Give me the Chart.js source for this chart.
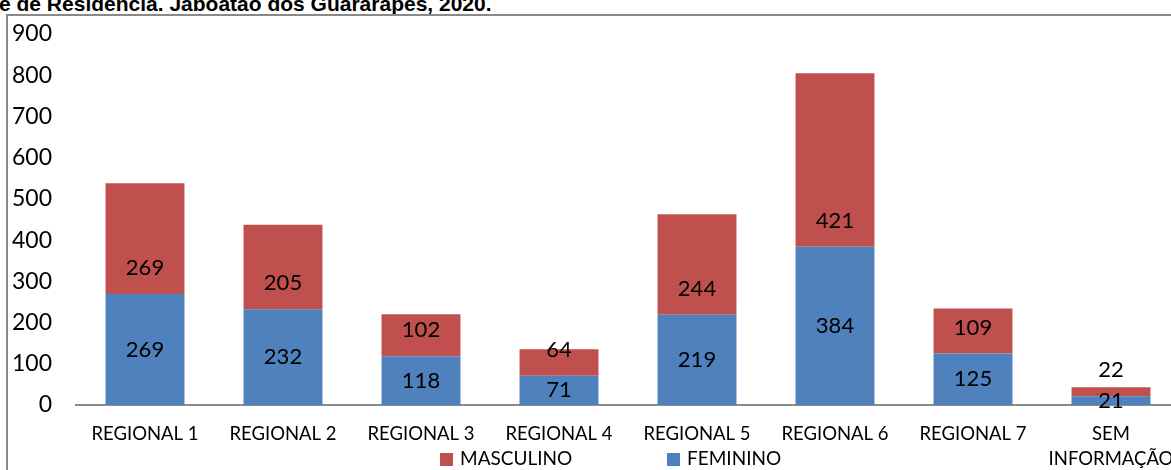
<!DOCTYPE html>
<html>
<head>
<meta charset="utf-8">
<script src="https://cdn.jsdelivr.net/npm/chart.js@4"></script>
<style>
    html, body { margin: 0; padding: 0; background: #fff; overflow: hidden; width: 1171px; height: 470px; }
    #title { position: absolute; left: -1px; top: -7px; font: bold 21px "Liberation Sans", Arial, sans-serif; line-height: 21px; white-space: nowrap; color: #000; }
    #frame { position: absolute; left: 6px; top: 14px; width: 1300px; height: 600px; border: 2px solid #898989; }
    #wrap { position: absolute; left: 0; top: 0; width: 1190px; height: 500px; }
    #legend { position: absolute; top: 446px; left: 0; font: 19px Lato, sans-serif; color: #000; }
    #legend span.item { position: absolute; white-space: nowrap; }
    #legend i { display: inline-block; width: 13px; height: 13px; margin-right: 7px; vertical-align: -1px; }
</style>
</head>
<body>
<div id="title">e de Residência. Jaboatão dos Guararapes, 2020.</div>
<div id="frame"></div>
<div id="wrap"><canvas id="chart" width="1190" height="500"></canvas></div>
<div id="legend"></div>
<script>
// categories and values
const categories = ['REGIONAL 1', 'REGIONAL 2', 'REGIONAL 3', 'REGIONAL 4', 'REGIONAL 5', 'REGIONAL 6', 'REGIONAL 7', ['SEM', 'INFORMAÇÃO']];
const feminino = [269, 232, 118, 71, 219, 384, 125, 21];
const masculino = [269, 205, 102, 64, 244, 421, 109, 22];
const yTicks = [0, 100, 200, 300, 400, 500, 600, 700, 800, 900];

const BLUE = '#4F81BD';
const RED = '#C0504D';

// value labels: blue centred, red sitting near the base of its segment
const valueLabels = {
    id: 'valueLabels',
    afterDatasetsDraw(chart) {
        const ctx = chart.ctx;
        ctx.save();
        ctx.font = '22px Lato, sans-serif';
        ctx.fillStyle = '#000';
        ctx.textAlign = 'center';
        ctx.textBaseline = 'middle';
        chart.data.datasets.forEach((ds, i) => {
            const meta = chart.getDatasetMeta(i);
            meta.data.forEach((bar, j) => {
                const y = ds.labelAnchor === 'base' ? bar.base - 26 : (bar.y + bar.base) / 2;
                ctx.fillText(String(ds.data[j]), bar.x, y);
            });
        });
        ctx.restore();
    }
};

const chart = new Chart(document.getElementById('chart').getContext('2d'), {
    type: 'bar',
    data: {
        labels: categories,
        datasets: [{
            label: 'FEMININO',
            data: feminino,
            backgroundColor: BLUE,
            labelAnchor: 'center'
        }, {
            label: 'MASCULINO',
            data: masculino,
            backgroundColor: RED,
            labelAnchor: 'base'
        }]
    },
    options: {
        responsive: false,
        animation: false,
        layout: { padding: { top: 34, right: 10, bottom: 0, left: 0 } },
        datasets: { bar: { barPercentage: 0.572, categoryPercentage: 1 } },
        scales: {
            x: {
                stacked: true,
                grid: { display: false, drawTicks: false },
                border: { display: true, color: '#8a8a8a', width: 2 },
                ticks: { color: '#000', font: { family: 'Lato', size: 18.5, lineHeight: 1.35 }, padding: 17, maxRotation: 0, autoSkip: false },
                afterFit: s => { s.height = 95; s.paddingLeft = 0; s.paddingRight = 0; }
            },
            y: {
                stacked: true,
                min: 0, max: 900,
                grid: { display: false, drawTicks: false },
                border: { display: false },
                afterBuildTicks: s => { s.ticks = yTicks.map(v => ({ value: v })); },
                ticks: { color: '#000', font: { family: 'Lato', size: 23 }, padding: 24 },
                afterFit: s => { s.width = 76; s.paddingTop = 0; s.paddingBottom = 0; }
            }
        },
        plugins: {
            legend: { display: false },
            tooltip: { enabled: false }
        }
    },
    plugins: [valueLabels]
});

// legend below the axis, MASCULINO first like the original
const legendPos = { MASCULINO: 440, FEMININO: 667 };
const legend = document.getElementById('legend');
chart.data.datasets.slice().reverse().forEach(ds => {
    const item = document.createElement('span');
    item.className = 'item';
    item.style.left = legendPos[ds.label] + 'px';
    item.innerHTML = `<i style="background:${ds.backgroundColor}"></i>${ds.label}`;
    legend.appendChild(item);
});
</script>
</body>
</html>
